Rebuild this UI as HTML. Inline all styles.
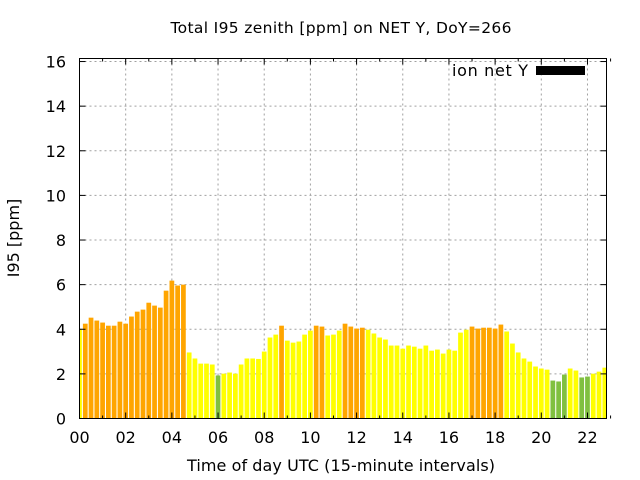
<!DOCTYPE html>
<html><head><meta charset="utf-8"><style>
html,body{margin:0;padding:0;background:#fff;}
svg{display:block;font-family:"DejaVu Sans","Liberation Sans",sans-serif;}
</style></head><body>
<svg id="chart" width="640" height="480" viewBox="0 0 640 480">
<rect width="640" height="480" fill="#fff"/>
<text x="341" y="33" text-anchor="middle" font-size="15.5" textLength="341">Total I95 zenith [ppm] on NET Y, DoY=266</text>
<g id="grid"></g>
<g id="bars"></g>
<g id="axes"></g>
<text x="341" y="471" text-anchor="middle" font-size="16" textLength="308">Time of day UTC (15-minute intervals)</text>
<text transform="translate(19,238) rotate(-90)" text-anchor="middle" font-size="16">I95 [ppm]</text>
<g>
<text x="528" y="76" text-anchor="end" font-size="16" textLength="76">ion net Y</text>
<rect x="536" y="66" width="49" height="9" fill="#000"/>
</g>
</svg>
<script>
const values = [3.98,4.25,4.52,4.39,4.30,4.16,4.16,4.34,4.25,4.57,4.79,4.88,5.19,5.06,4.97,5.73,6.18,5.96,6.00,2.96,2.69,2.46,2.46,2.42,1.93,2.01,2.06,2.01,2.42,2.69,2.69,2.67,3.00,3.63,3.76,4.16,3.49,3.40,3.45,3.76,3.94,4.16,4.12,3.72,3.76,3.94,4.25,4.12,4.03,4.07,3.98,3.81,3.63,3.54,3.27,3.27,3.13,3.27,3.22,3.13,3.27,3.04,3.09,2.91,3.09,3.04,3.85,3.98,4.12,4.03,4.07,4.07,4.03,4.21,3.90,3.36,2.96,2.69,2.55,2.33,2.24,2.19,1.70,1.66,1.97,2.24,2.15,1.84,1.88,2.01,2.10,2.28];
const xTicks = [0,2,4,6,8,10,12,14,16,18,20,22];
const xTickLabels = ["00","02","04","06","08","10","12","14","16","18","20","22"];
const yTicks = [0,2,4,6,8,10,12,14,16];
const binHours = 0.25;

const L=79.5,R=606.5,T=58.5,B=418.5, XMAX=(R-L)/23.09, YMAX=(B-T)/22.31;
const sx=h=>L+h/XMAX*(R-L), sy=v=>B-v/YMAX*(B-T);
const NS="http://www.w3.org/2000/svg";
function mk(tag,attrs,parent){const e=document.createElementNS(NS,tag);for(const k in attrs)e.setAttribute(k,attrs[k]);parent.appendChild(e);return e;}
const grid=document.getElementById('grid'),bars=document.getElementById('bars'),axes=document.getElementById('axes');
const dash={stroke:"#a0a0a0","stroke-width":1,"stroke-dasharray":"2,3"};
yTicks.forEach(v=>{
  const y=sy(v);
  if(v>0){const g=mk('line',Object.assign({x1:L,x2:R,y1:y,y2:y},dash),grid);
  
  }
  mk('line',{x1:L,x2:L+6,y1:y,y2:y,stroke:"#000"},axes);
  mk('line',{x1:R-6,x2:R,y1:y,y2:y,stroke:"#000"},axes);
  const t=mk('text',{x:66,y:y+6,"text-anchor":"end","font-size":"16"},axes);t.textContent=v;
  
  
});
xTicks.forEach((h,i)=>{
  const x=sx(h);
  if(h>0){const g=mk('line',Object.assign({x1:x,x2:x,y1:T,y2:B},dash),grid);
  
  }
  mk('line',{x1:x,x2:x,y1:B,y2:B-6,stroke:"#000"},axes);
  mk('line',{x1:x,x2:x,y1:T,y2:T+6,stroke:"#000"},axes);
  mk('line',{x1:sx(h+1),x2:sx(h+1),y1:B,y2:B-3,stroke:"#000"},axes);
  mk('line',{x1:sx(h+1),x2:sx(h+1),y1:T,y2:T+3,stroke:"#000"},axes);
  const t=mk('text',{x:x,y:443,"text-anchor":"middle","font-size":"16"},axes);t.textContent=xTickLabels[i];
  
  
});
const bw=(sx(binHours)-sx(0))*0.82;
values.forEach((v,i)=>{
  const cx=sx(i*binHours);
  let x0=Math.max(cx-bw/2,L), x1=Math.min(cx+bw/2,R);
  const col=v<2?"#80c040":(v<4?"#ffff00":"#ffa500");
  const r=mk('rect',{x:x0,y:sy(v),width:Math.max(0,x1-x0),height:B-sy(v),fill:col},bars);
  
  
});
const f=mk('rect',{x:L,y:T,width:R-L,height:B-T,fill:"none",stroke:"#000","stroke-width":1},axes);


</script>
</body></html>
